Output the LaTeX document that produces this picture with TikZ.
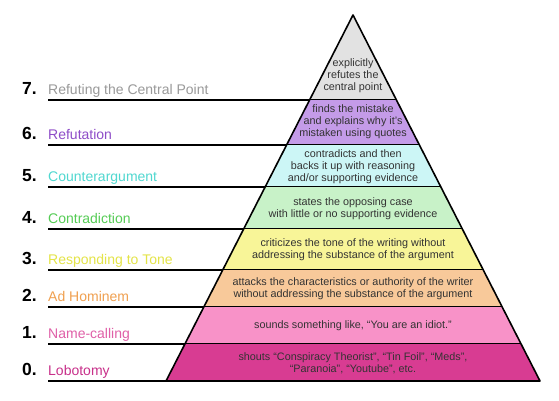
\documentclass[tikz,border=0pt]{standalone}
\usepackage{fontspec}
\setmainfont{Liberation Sans}

\definecolor{pyr7}{HTML}{E2E2E2}
\definecolor{pyr6}{HTML}{C49BE8}
\definecolor{pyr5}{HTML}{CCF6F6}
\definecolor{pyr4}{HTML}{C8F2C8}
\definecolor{pyr3}{HTML}{F8F598}
\definecolor{pyr2}{HTML}{F8C99A}
\definecolor{pyr1}{HTML}{F892C8}
\definecolor{pyr0}{HTML}{D83C92}
\definecolor{txt7}{HTML}{9A9A9A}
\definecolor{txt6}{HTML}{8E4DC8}
\definecolor{txt5}{HTML}{50D8D0}
\definecolor{txt4}{HTML}{55CC55}
\definecolor{txt3}{HTML}{E4E448}
\definecolor{txt2}{HTML}{F0A050}
\definecolor{txt1}{HTML}{E060A8}
\definecolor{txt0}{HTML}{C8308A}

\begin{document}
\begin{tikzpicture}[x=1pt,y=-1pt,
	rule/.style={line width=1.6pt},
	desc/.style={align=center,inner sep=0pt,text=black!80,font=\fontsize{10.8}{11.8}\selectfont},
	num/.style={anchor=base east,inner sep=0pt,font=\fontsize{17.5}{17.5}\selectfont\bfseries},
	tag/.style={anchor=base west,inner sep=0pt,font=\fontsize{14}{14}\selectfont}]
	\useasboundingbox[fill=white] (0,0) rectangle (559,400);
	\coordinate (apex) at (353,15);
	\coordinate (bl) at (166,381);
	\coordinate (br) at (540,381);
	
	\foreach \lvl/\ya/\yb in {7/15/100,6/100/145,5/145/187,4/187/229,3/229/270,2/270/307,1/307/344,0/344/381}{
		\pgfmathsetmacro{\ha}{0.511*(\ya-15)}
		\pgfmathsetmacro{\hb}{0.511*(\yb-15)}
		\fill[pyr\lvl] ({353-\ha},\ya) -- ({353+\ha},\ya) -- ({353+\hb},\yb) -- ({353-\hb},\yb) -- cycle;
		\coordinate (l\lvl) at (48,\yb);
		\coordinate (r\lvl) at ({353+\hb},\yb);
		\draw[rule] (l\lvl) -- (r\lvl);
	}
	\draw[rule,line join=round] (apex) -- (br) -- (bl) -- cycle;
	
	\node[desc] (desc7) at (353,76) {explicitly\\refutes the\\central point};
	\node[desc] (desc6) at (353,122) {finds the mistake\\and explains why it's\\mistaken using quotes};
	\node[desc] (desc5) at (353,166.5) {contradicts and then\\backs it up with reasoning\\and/or supporting evidence};
	\node[desc] (desc4) at (353,209) {states the opposing case\\with little or no supporting evidence};
	\node[desc] (desc3) at (353,250) {criticizes the tone of the writing without\\addressing the substance of the argument};
	\node[desc] (desc2) at (353,288.5) {attacks the characteristics or authority of the writer\\without addressing the substance of the argument};
	\node[desc] (desc1) at (353,326) {sounds something like, “You are an idiot.”};
	\node[desc] (desc0) at (353,363.5) {shouts “Conspiracy Theorist”, “Tin Foil”, “Meds”,\\“Paranoia”, “Youtube”, etc.};
	
	\node[num] (num7) at (37,94) {7.};
	\node[num] (num6) at (37,139) {6.};
	\node[num] (num5) at (37,181) {5.};
	\node[num] (num4) at (37,223) {4.};
	\node[num] (num3) at (37,264) {3.};
	\node[num] (num2) at (37,301) {2.};
	\node[num] (num1) at (37,338) {1.};
	\node[num] (num0) at (37,375) {0.};
	
	\node[tag,text=txt7] (name7) at (48,94) {Refuting the Central Point};
	\node[tag,text=txt6] (name6) at (48,139) {Refutation};
	\node[tag,text=txt5] (name5) at (48,181) {Counterargument};
	\node[tag,text=txt4] (name4) at (48,223) {Contradiction};
	\node[tag,text=txt3] (name3) at (48,264) {Responding to Tone};
	\node[tag,text=txt2] (name2) at (48,301) {Ad Hominem};
	\node[tag,text=txt1] (name1) at (48,338) {Name-calling};
	\node[tag,text=txt0] (name0) at (48,375) {Lobotomy};
\end{tikzpicture}
\end{document}
